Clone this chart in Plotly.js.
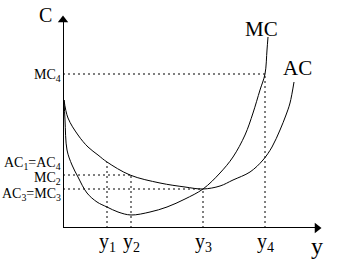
<!DOCTYPE html>
<html><head><meta charset="utf-8">
<script src="https://cdn.plot.ly/plotly-3.0.1.min.js"></script>
<style>html,body{margin:0;padding:0;background:#fff}</style>
</head><body><div id="chart" style="width:337px;height:259px"></div>
<script>
// Cost curves (output, cost)
const acX = [1, 5, 15, 25, 35, 44, 67, 97, 122, 140, 157, 170, 187, 200, 209, 217, 223, 227, 231];
const acY = [128, 110, 93, 81, 73, 66, 53, 45, 41, 39, 42, 48, 56, 68, 81, 98, 113, 125, 146];
const mcX = [1, 2, 4, 9, 15, 24, 34, 44, 55, 68, 87, 104, 122, 140, 157, 170, 182, 190, 197, 202, 204, 205];
const mcY = [128, 108, 78, 63, 51, 35, 26, 21, 16, 13, 16, 21, 29, 39, 55, 71, 93, 115, 138, 154, 178, 191];
// Output levels and their guide heights
const outLabels = ["y<sub>1</sub>", "y<sub>2</sub>", "y<sub>3</sub>", "y<sub>4</sub>"];
const outX = [44, 68, 140, 202];
const outTop = [66, 53, 39, 154];
// Cost levels on the C axis
const costLabels = ["MC<sub>4</sub>", "AC<sub>1</sub>=AC<sub>4</sub>", "MC<sub>2</sub>", "AC<sub>3</sub>=MC<sub>3</sub>"];
const costY = [153, 65, 50, 34];
const hLevels = [154, 53, 39];
const hEnds = [202, 68, 140];

const XR = [0, 262], YR = [0, 213];
const px = v => (v - XR[0]) / (XR[1] - XR[0]);
const py = v => (v - YR[0]) / (YR[1] - YR[0]);

const F = "Liberation Serif, Times New Roman, serif";
const traces = [];
const dot = {color: "#000", width: 1, dash: "2px,3px"};
for (let i = 0; i < outX.length; i++) {
  traces.push({x: [outX[i], outX[i]], y: [0, outTop[i]], mode: "lines", line: dot, hoverinfo: "skip"});
}
for (let i = 0; i < hLevels.length; i++) {
  traces.push({x: [0, hEnds[i]], y: [hLevels[i], hLevels[i]], mode: "lines", line: dot, hoverinfo: "skip"});
}
traces.push({x: acX, y: acY, mode: "lines", line: {color: "#000", width: 1, shape: "spline"}});
traces.push({x: mcX, y: mcY, mode: "lines", line: {color: "#000", width: 1, shape: "spline"}});
// axes with arrowheads
traces.push({x: [0, 0], y: [0, 206], mode: "lines", line: {color: "#000", width: 2}, cliponaxis: false});
traces.push({x: [0, 252], y: [0, 0], mode: "lines", line: {color: "#000", width: 2}, cliponaxis: false});
traces.push({x: [0], y: [208], mode: "markers", marker: {symbol: "triangle-up", size: 9, color: "#000"}, cliponaxis: false});
traces.push({x: [254], y: [0], mode: "markers", marker: {symbol: "triangle-right", size: 9, color: "#000"}, cliponaxis: false});

const ann = [];
ann.push({x: -18, y: 213, text: "C", font: {size: 20}});
ann.push({x: 254, y: -18, text: "y", font: {size: 24}});
ann.push({x: 198, y: 199, text: "MC", font: {size: 21}});
ann.push({x: 234, y: 160, text: "AC", font: {size: 21}});
for (let i = 0; i < outX.length; i++) {
  ann.push({x: outX[i], y: -14, text: outLabels[i], font: {size: 20}});
}
for (let i = 0; i < costLabels.length; i++) {
  ann.push({x: -1, y: costY[i], text: costLabels[i], xanchor: "right", font: {size: 14}});
}
ann.forEach(a => {
  a.showarrow = false; a.xref = "paper"; a.yref = "paper";
  a.x = px(a.x); a.y = py(a.y);
  if (!a.xanchor) a.xanchor = "center";
  a.yanchor = "middle";
  a.borderpad = 0;
  a.font.family = F; a.font.color = "#000";
});

Plotly.newPlot("chart", traces, {
  width: 337, height: 259,
  margin: {l: 63, r: 12, t: 15, b: 31},
  showlegend: false,
  paper_bgcolor: "#fff", plot_bgcolor: "#fff",
  xaxis: {range: XR, visible: false, fixedrange: true},
  yaxis: {range: YR, visible: false, fixedrange: true},
  annotations: ann
}, {staticPlot: true});
</script></body></html>
